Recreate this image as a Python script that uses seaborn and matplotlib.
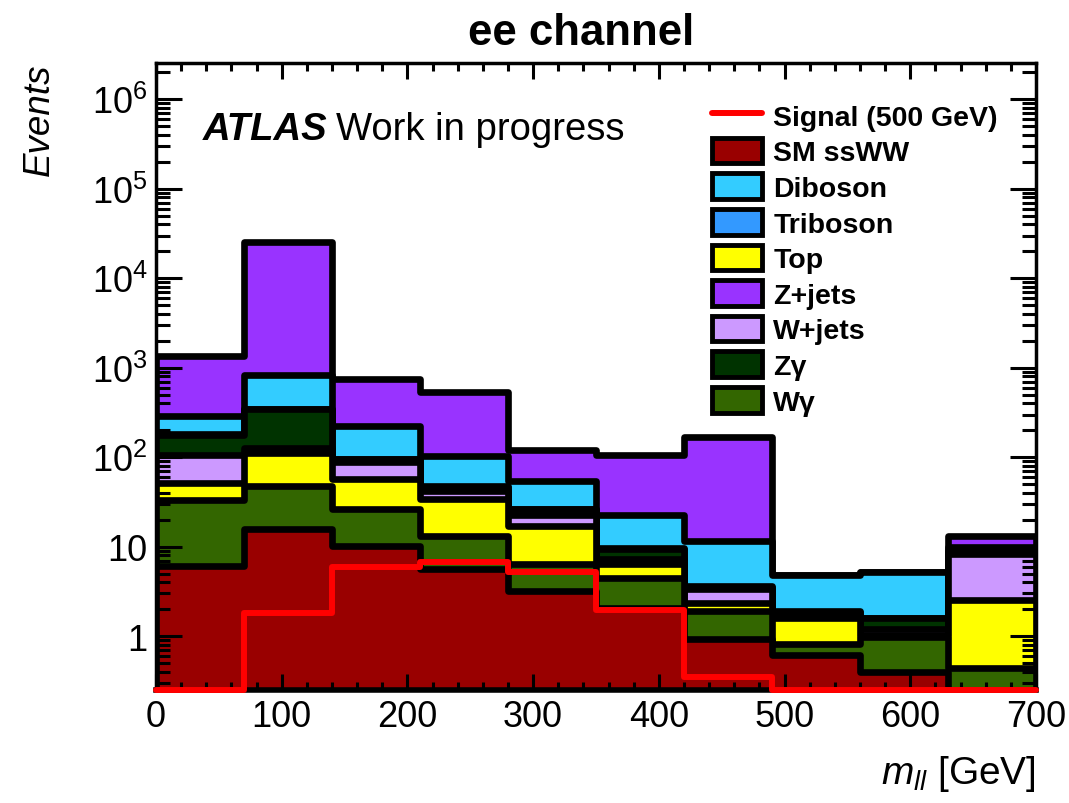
import numpy as np
import pandas as pd
import matplotlib
matplotlib.use("Agg")
import matplotlib.pyplot as plt
from matplotlib.patches import Patch
from matplotlib.lines import Line2D
from matplotlib.ticker import FuncFormatter, MultipleLocator, NullFormatter
import seaborn as sns

# m_ll binning (GeV)
bin_edges = [0, 70, 140, 210, 280, 350, 420, 490, 560, 630, 700]

# events per bin for each background
sm_ssww  = [6.1, 15.8, 10.2, 5.7, 3.2, 2.05, 0.94, 0.61, 0.40, 0.20]
w_gamma  = [27.3, 32.0, 16.0, 7.5, 3.25, 2.4, 0.98, 0.20, 0.57, 0.24]
top      = [18.3, 65.0, 30.7, 20.8, 10.4, 2.0, 0.42, 0.77, 0.05, 2.09]
w_jets   = [54.0, 13.0, 30.7, 8.0, 5.6, 0.9, 1.06, 0.02, 0.18, 5.7]
z_gamma  = [73.0, 222.0, 7.4, 5.0, 3.7, 2.05, 0.15, 0.27, 0.38, 0.4]
triboson = [1.0, 2.0, 1.0, 1.0, 0.3, 0.15, 0.05, 0.02, 0.02, 0.4]
diboson  = [108.0, 487.0, 125.0, 56.5, 27.5, 13.0, 7.9, 2.9, 3.55, 1.0]
z_jets   = [1077.0, 24860.0, 521.0, 431.0, 68.0, 83.5, 157.0, 0.05, 0.05, 3.3]

# signal (500 GeV)
signal = [0.0, 1.8, 6.0, 6.7, 5.2, 1.95, 0.35, 0.0, 0.0, 0.0]

# stacking order, bottom to top
stack_names = ["SM ssWW", "W\u03b3", "Top", "W+jets", "Z\u03b3", "Triboson", "Diboson", "Z+jets"]
stack_values = [sm_ssww, w_gamma, top, w_jets, z_gamma, triboson, diboson, z_jets]
stack_colors = ["#990000", "#336600", "#ffff00", "#cc99ff", "#003300", "#3399ff", "#33ccff", "#9933ff"]
colors = dict(zip(stack_names, stack_colors))

# legend order
legend_order = ["SM ssWW", "Diboson", "Triboson", "Top", "Z+jets", "W+jets", "Z\u03b3", "W\u03b3"]

ymin, ymax = 0.25, 2.57e6

sns.set_theme(style="ticks")
plt.rcParams["font.family"] = ["Liberation Sans", "DejaVu Sans"]
plt.rcParams["mathtext.fontset"] = "custom"
plt.rcParams["mathtext.rm"] = "Liberation Sans"
plt.rcParams["mathtext.it"] = "Liberation Sans:italic"
plt.rcParams["mathtext.bf"] = "Liberation Sans:bold"
for k in ["text.color", "axes.labelcolor", "xtick.color", "ytick.color", "axes.edgecolor"]:
    plt.rcParams[k] = "black"

edges = np.array(bin_edges, dtype=float)
centers = (edges[:-1] + edges[1:]) / 2
cumulative = np.cumsum(np.array(stack_values), axis=0)

fig = plt.figure(figsize=(10.69, 8.04), dpi=100)
ax = fig.add_axes([0.1459, 0.1405, 0.8232, 0.7803])
ax.set_yscale("log")

# draw the stack from the top down so lower layers cover upper ones
for vals, col in zip(cumulative[::-1], stack_colors[::-1]):
    df = pd.DataFrame({"mll": centers, "events": vals})
    sns.histplot(data=df, x="mll", weights="events", bins=bin_edges, element="step",
                 fill=True, color=col, alpha=1, edgecolor="black", linewidth=4.8, ax=ax)

# empty signal bins sit on the lower edge of the frame
sig_df = pd.DataFrame({"mll": centers, "events": np.clip(np.array(signal), ymin, None)})
sns.histplot(data=sig_df, x="mll", weights="events", bins=bin_edges, element="step",
             fill=False, color="red", linewidth=4.3, clip_on=False, zorder=6, ax=ax)

ax.set_xlim(0, 700)
ax.set_ylim(ymin, ymax)

ax.xaxis.set_major_locator(MultipleLocator(100))
ax.xaxis.set_minor_locator(MultipleLocator(20))
major_y = [10.0 ** e for e in range(0, 7)]
minor_y = [m * 10.0 ** e for e in range(-1, 7) for m in range(2, 10)]
minor_y = [v for v in minor_y if ymin <= v <= ymax]
ax.set_yticks(major_y)
ax.set_yticks(minor_y, minor=True)
ax.yaxis.set_minor_formatter(NullFormatter())


def log_label(v, pos):
    e = int(round(np.log10(v)))
    if e == 0:
        return "1"
    if e == 1:
        return "10"
    return r"$\mathregular{10^{%d}}$" % e


ax.yaxis.set_major_formatter(FuncFormatter(log_label))
ax.set_ylim(ymin, ymax)

ax.set_axisbelow(False)
ax.tick_params(which="both", direction="in", top=True, right=True, width=2.2)
ax.tick_params(axis="y", which="major", length=19, pad=6, labelsize=26)
ax.tick_params(axis="y", which="minor", length=10)
ax.tick_params(axis="x", which="major", length=11.5, pad=6.5, labelsize=26)
ax.tick_params(axis="x", which="minor", length=5.5)
for sp in ax.spines.values():
    sp.set_linewidth(2.5)
    sp.set_zorder(5)
ax.spines["bottom"].set_linewidth(4)

ax.set_ylabel("Events", fontsize=26.5, style="italic", loc="top")
ax.yaxis.set_label_coords(-0.113, 1.0)
ax.set_xlabel(r"$m_{ll}$ [GeV]", fontsize=28, loc="right")
ax.xaxis.set_label_coords(1.0, -0.1)

fig.text(0.5435, 0.958, "ee channel", fontsize=31.5, fontweight="bold", ha="center", va="center")
ax.text(0.0534, 0.878, "ATLAS", transform=ax.transAxes, fontsize=27.5,
        fontweight="bold", style="italic", va="baseline")
ax.text(0.2045, 0.878, "Work in progress", transform=ax.transAxes, fontsize=27.5, va="baseline")

handles = [Line2D([], [], color="red", linewidth=4.3)]
labels = ["Signal (500 GeV)"]
for name in legend_order:
    handles.append(Patch(facecolor=colors[name], edgecolor="black", linewidth=3.5))
    labels.append(name)
ax.legend(handles, labels, loc="upper left", bbox_to_anchor=(0.632, 0.937),
          frameon=False, borderpad=0, borderaxespad=0, handlelength=1.75,
          handleheight=1.0, handletextpad=0.4, labelspacing=0.25,
          prop={"weight": "bold", "size": 20.5})

fig.savefig("out.png", dpi=100)
